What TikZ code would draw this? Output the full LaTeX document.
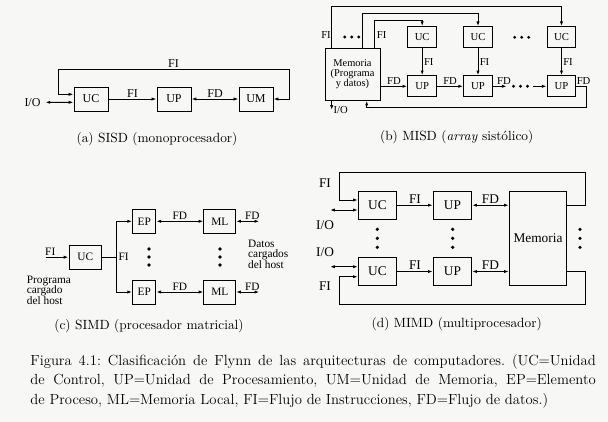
\documentclass[tikz,border=0pt]{standalone}
\usepackage{fontspec}
\newfontfamily\figfont{Liberation Serif}
\usetikzlibrary{arrows.meta}
\definecolor{papel}{RGB}{247,247,245}
\tikzset{every picture/.style={line width=0.7pt}}
% three dots in a row / in a column
\newcommand{\puntosh}[2]{\fill (#1-7,#2) circle[radius=1.6] (#1,#2) circle[radius=1.6] (#1+7,#2) circle[radius=1.6];}
\newcommand{\puntosv}[3]{\fill (#1,#2-#3) circle[radius=1.8] (#1,#2) circle[radius=1.8] (#1,#2+#3) circle[radius=1.8];}

\begin{document}
\frenchspacing
\begin{tikzpicture}[x=0.75pt,y=0.75pt,yscale=-1,xscale=1,
  caja/.style={draw, inner sep=0pt},
  flecha/.style={-{Latex[length=3.6pt,width=2.4pt]}},
  dflecha/.style={{Latex[length=3.6pt,width=2.4pt]}-{Latex[length=3.6pt,width=2.4pt]}},
  etq/.style={inner sep=1pt},
  subcap/.style={font=\fontsize{10}{12}\selectfont}]
%set diagram: 608 x 422
\fill[papel] (0,0) rectangle (608,422);

%%% (a) SISD
\begin{scope}[every node/.style={font=\figfont\fontsize{9}{10}\selectfont},
  caja/.append style={minimum width=25.5pt, minimum height=18pt}]
% Boxes
\node[caja] (ucA) at (91,99) {UC};
\node[caja] (upA) at (174,99) {UP};
\node[caja] (umA) at (256,99) {UM};
\node (ioA) at (32.5,102.3) {I/O};
\coordinate (fiA1) at (58,69);
\coordinate (fiA2) at (289,69);
% Connectors
\draw[flecha] (ucA) -- node[etq, above] {FI} (upA);
\draw[dflecha] (upA) -- node[etq, above] {FD} (umA);
\draw[dflecha] ([yshift=-3.5pt]ucA.west) -| (fiA1) -- node[etq, above] {FI} (fiA2) |- (umA);
\draw[dflecha] (ioA.east) -- ([yshift=2.5pt]ucA.west);
\end{scope}
\node[subcap] (capA) at (157,139) {(a) SISD (monoprocesador)};

%%% (b) MISD
\begin{scope}[every node/.style={font=\figfont\fontsize{8}{9}\selectfont},
  caja/.append style={minimum width=21.6pt, minimum height=15.75pt}]
% Boxes
\node[caja, minimum width=41.25pt, minimum height=39pt, align=center,
  font=\figfont\fontsize{7.8}{7.6}\selectfont] (memB) at (352.5,74.2) {Memoria\\(Programa\\y datos)};
\node[caja] (ucB1) at (422.2,37.2) {UC};
\node[caja] (ucB2) at (478,37.2) {UC};
\node[caja] (ucB3) at (561.5,37.2) {UC};
\node[caja] (upB1) at (422.2,86.3) {UP};
\node[caja] (upB2) at (478,86.3) {UP};
\node[caja] (upB3) at (561.5,86.3) {UP};
% Text
\node (fiB1) at (326,35) {FI};
\node (fiB2) at (381.7,35) {FI};
\puntosh{351.7}{37}
\puntosh{521.7}{37.3}
\puntosh{520.5}{86.3}
\coordinate (lB1) at (331.7,6.7);
\coordinate (lB2) at (362.7,13.3);
\coordinate (lB3) at (374,20.7);
\coordinate (dB1) at (506.7,86.3);
\coordinate (dB2) at (533.3,86.3);
\coordinate (rB1) at (586.7,107.3);
\coordinate (rB2) at (366.7,107.3);
\coordinate (ioB) at (331.7,110);
% Connectors
\draw[flecha] (memB.north -| lB1) -- (lB1) -| (ucB3);
\draw[flecha] (memB.north -| lB2) -- (lB2) -| (ucB2);
\draw[flecha] (memB.north -| lB3) -- (lB3) -| (ucB1);
\draw[flecha] (ucB1) -- node[etq, right] {FI} (upB1);
\draw[flecha] (ucB2) -- node[etq, right] {FI} (upB2);
\draw[flecha] (ucB3) -- node[etq, right] {FI} (upB3);
\draw[flecha] (memB.east |- upB1) -- node[etq, above] {FD} (upB1);
\draw[flecha] (upB1) -- node[etq, above] {FD} (upB2);
\draw[flecha] (upB2) -- node[etq, above, pos=0.8] {FD} (dB1);
\draw[flecha] (dB2) -- (upB3);
\draw[flecha] (upB3.east) -| node[etq, above, pos=0.35] {FD} (rB1) -- (rB2) -- (rB2 |- memB.south);
\draw[flecha] (memB.south -| lB1) -- (ioB) node[etq, right] (ioBt) {I/O};
\end{scope}
\node[subcap] (capB) at (456.7,137.5) {(b) MISD (\textit{array} sistólico)};

%%% (c) SIMD
\begin{scope}[every node/.style={font=\figfont\fontsize{8.5}{7.9}\selectfont},
  caja/.append style={minimum height=18pt}]
% Boxes
\node[caja, minimum width=24.5pt] (ucC) at (85.3,257.2) {UC};
\node[caja, minimum width=17.4pt] (epC1) at (144.2,221.3) {EP};
\node[caja, minimum width=17.4pt] (epC2) at (144.2,292) {EP};
\node[caja, minimum width=23.8pt] (mlC1) at (219.8,221.3) {ML};
\node[caja, minimum width=23.8pt] (mlC2) at (219.8,292) {ML};
% Text
\node[align=left, anchor=west] (hostC) at (22,290) {Programa\\cargado\\del host};
\node[align=left, anchor=west] (datC) at (243.3,254) {Datos\\cargados\\del host};
\puntosv{149}{257}{8}
\puntosv{220}{257}{8}
\coordinate (inC) at (45.7,257.2);
\coordinate (brC) at (116.7,257.2);
\coordinate (outC1) at (259.3,221.3);
\coordinate (outC2) at (259.3,292);
% Connectors
\draw[flecha] (inC) -- node[etq, above, pos=0.2] {FI} (ucC);
\draw (ucC) -- (brC) node[etq, right] (fiC) {FI};
\draw[flecha] (brC) |- (epC1);
\draw[flecha] (brC) |- (epC2);
\draw[dflecha] (epC1) -- node[etq, above] {FD} (mlC1);
\draw[dflecha] (epC2) -- node[etq, above] {FD} (mlC2);
\draw[dflecha] (mlC1) -- node[etq, above, pos=0.7] {FD} (outC1);
\draw[dflecha] (mlC2) -- node[etq, above, pos=0.7] {FD} (outC2);
\end{scope}
\node[subcap] (capC) at (149,326) {(c) SIMD (procesador matricial)};

%%% (d) MIMD
\begin{scope}[every node/.style={font=\figfont\fontsize{10}{11}\selectfont},
  caja/.append style={minimum width=28.75pt, minimum height=21.25pt}]
% Boxes
\node[caja] (ucD1) at (377.5,205.2) {UC};
\node[caja] (ucD2) at (377.5,271.5) {UC};
\node[caja] (upD1) at (452.5,205.2) {UP};
\node[caja] (upD2) at (452.5,271.5) {UP};
\node[caja, minimum width=43pt, minimum height=70.5pt] (memD) at (538,238) {Memoria};
% Text
\node (fiD1) at (325,183.3) {FI};
\node (ioDt1) at (325,225) {I/O};
\node (ioDt2) at (325,251.7) {I/O};
\node (fiD2) at (325,286) {FI};
\puntosv{377.3}{238.3}{9}
\puntosv{452.7}{238.3}{9}
\puntosv{580}{238.3}{9}
\coordinate (lpD1) at (585,172.7);
\coordinate (lpD2) at (339.3,172.7);
\coordinate (lpD3) at (585,304.3);
\coordinate (lpD4) at (339.3,304.3);
\coordinate (ioD1) at (330,210);
\coordinate (ioD2) at (330,266.7);
% Connectors
\draw[flecha] (ucD1) -- node[etq, above] {FI} (upD1);
\draw[flecha] (ucD2) -- node[etq, above] {FI} (upD2);
\draw[dflecha] (upD1) -- node[etq, above] {FD} (upD1 -| memD.west);
\draw[dflecha] (upD2) -- node[etq, above] {FD} (upD2 -| memD.west);
\draw[flecha] (memD.east |- upD1) -| (lpD1) -- (lpD2) |- ([yshift=-3.9pt]ucD1.west);
\draw[flecha] (memD.east |- upD2) -| (lpD3) -- (lpD4) |- ([yshift=3.9pt]ucD2.west);
\draw[dflecha] (ioD1) -- ([yshift=3.6pt]ucD1.west);
\draw[dflecha] (ioD2) -- ([yshift=-3.6pt]ucD2.west);
\end{scope}
\node[subcap] (capD) at (456.7,324) {(d) MIMD (multiprocesador)};

% Figure caption
\node[anchor=west, text width=424pt, align=justify, inner sep=0pt,
  font=\fontsize{11}{14.6}\selectfont] (figcap) at (30,381)
  {Figura 4.1: Clasificación de Flynn de las arquitecturas de computadores. (UC=Unidad\linebreak
   de Control, UP=Unidad de Procesamiento, UM=Unidad de Memoria, EP=Elemento\linebreak
   de Proceso, ML=Memoria Local, FI=Flujo de Instrucciones, FD=Flujo de datos.)};
\end{tikzpicture}
\end{document}
